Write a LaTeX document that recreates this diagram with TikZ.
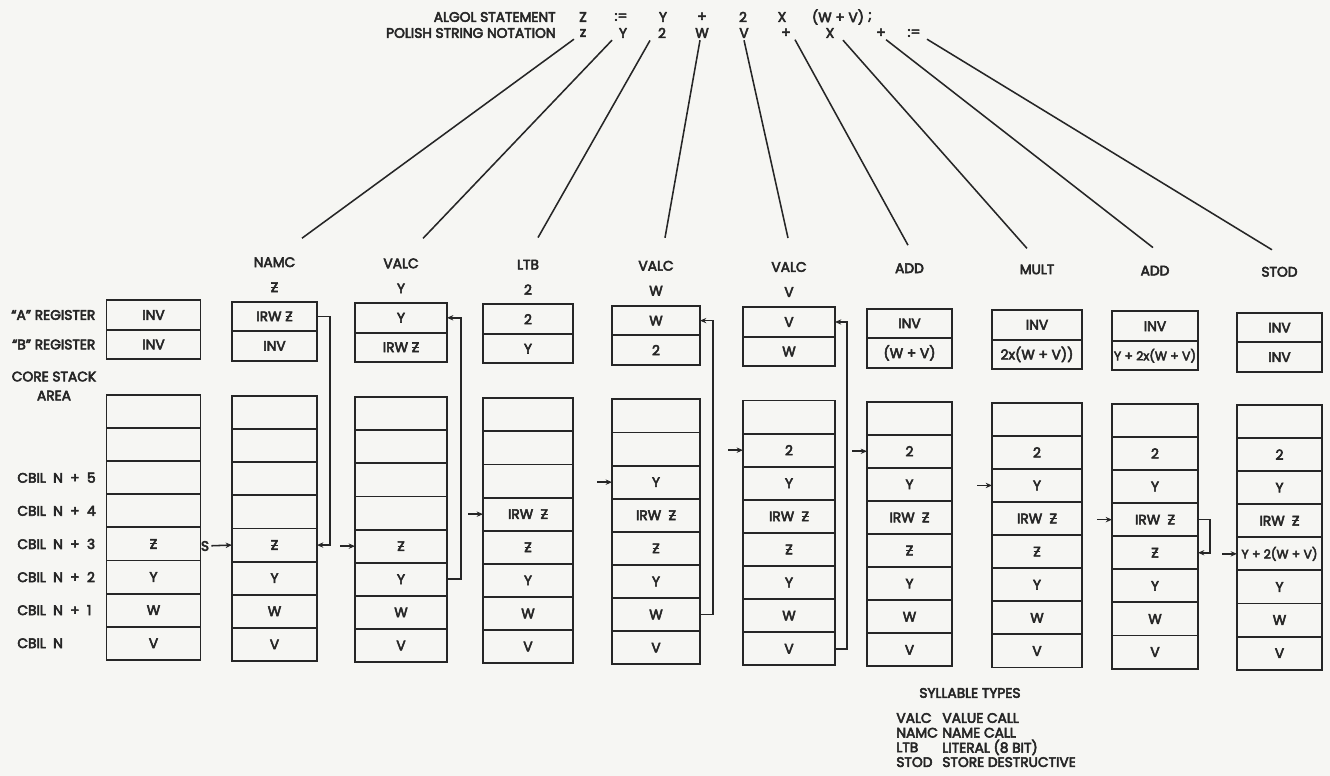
\documentclass[tikz,border=0pt]{standalone}
\usepackage{fontspec}
\setmainfont{Poppins}[FakeBold=4]
\usetikzlibrary{positioning,calc,arrows.meta}
\newcommand{\zb}{\ooalign{Z\cr\hidewidth\rule[0.31em]{0.5em}{0.075em}\hidewidth\cr}}
\newcommand{\ecell}{}
\newcommand{\nar}[1]{{\fontsize{8.8}{10}\selectfont #1}}
\begin{document}
\begin{tikzpicture}[
x=0.025cm, y=-0.025cm,
line width=1.4pt,
every node/.style={font=\fontsize{9.8}{11}\selectfont, text=ink, inner sep=1pt},
reg/.style={draw=ink, minimum height=29.5*0.025cm, inner sep=0pt, outer sep=0pt},
cell/.style={draw=ink, minimum height=33.1*0.025cm, inner sep=0pt, outer sep=0pt},
link/.style={draw=ink, line width=1.1pt},
ptr/.style={link, -{Stealth[length=4.5pt,width=3.8pt]}}
]
\definecolor{paper}{RGB}{246,246,243}
\definecolor{ink}{RGB}{38,38,38}

\useasboundingbox (0,0) rectangle (1330,776);
\fill[paper] (0,0) rectangle (1330,776);

\node[anchor=east] (algol) at (558,17) {ALGOL STATEMENT};
\node[anchor=east] (polish) at (558,33) {POLISH STRING NOTATION};
\foreach \txt/\x [count=\n] in {Z/583,:=/621,Y/663,+/702,2/743,X/782,(W + V)/838,;/870}
  \node (alg\n) at (\x,17) {\txt};
\foreach \txt/\x [count=\n] in {z/583,Y/623,2/662,W/702,V/744,+/786,X/830,+/881,:=/914}
  \node (pol\n) at (\x,33) {\txt};

\foreach \i/\cx/\op in {1/274.5/NAMC,2/401/VALC,3/528/LTB,4/656/VALC,5/789/VALC,6/909.5/ADD,7/1037/MULT,8/1155/ADD,9/1279.5/STOD}
  \node (op\i) at (\cx,261+1.2*\i) {\op};
\foreach \i/\av in {1/\zb,2/Y,3/2,4/W,5/V}
  \node (arg\i) at ($(op\i)+(0,25)$) {\av};

\foreach \n/\sx/\ex/\ey in {1/-9/27.5/-24,2/-11/22/-25,3/-12/10/-27,4/-2/9/-28,5/0/-1/-29,6/9/-1.5/-23,7/13/-10/-21,8/5/-2/-23,9/13/-7.5/-22}
  \draw[link] ($(pol\n.south)+(\sx,0)$) -- ($(op\n)+(\ex,\ey)$);

\foreach \i/\cx/\w/\ra/\rb/\stk in {
0/153.5/94/INV/INV/{\ecell,\ecell,\ecell,\ecell,\zb,Y,W,V},
1/274.5/85/IRW \zb/INV/{\ecell,\ecell,\ecell,\ecell,\zb,Y,W,V},
2/401/92/Y/IRW \zb/{\ecell,\ecell,\ecell,\ecell,\zb,Y,W,V},
3/528/90/2/Y/{\ecell,\ecell,\ecell,IRW~~\zb,\zb,Y,W,V},
4/656/88/W/2/{\ecell,\ecell,Y,IRW~~\zb,\zb,Y,W,V},
5/789/92/V/W/{\ecell,2,Y,IRW~~\zb,\zb,Y,W,V},
6/909.5/85/INV/(W + V)/{\ecell,2,Y,IRW~~\zb,\zb,Y,W,V},
7/1037/90/INV/2x(W + V))/{\ecell,2,Y,IRW~~\zb,\zb,Y,W,V},
8/1155/86/INV/\nar{Y + 2x(W + V)}/{\ecell,2,Y,IRW~~\zb,\zb,Y,W,V},
9/1279.5/85/INV/INV/{\ecell,2,Y,IRW~~\zb,\nar{Y + 2(W + V)},Y,W,V}}{
  \pgfmathsetmacro\ry{315+1.4*\i}
  \pgfmathsetmacro\sy{395+1.1*\i}
  \node[reg, minimum width=\w*0.025cm] (a\i) at (\cx,\ry) {\ra};
  \node[reg, minimum width=\w*0.025cm, anchor=north] (b\i) at (a\i.south) {\rb};
  \foreach \txt [count=\rw] in \stk
    \node[cell, minimum width=\w*0.025cm] (s\i-\rw) at (\cx,\sy+33.1*\rw-16.55) {\txt};
}

\node[left=0.22cm of a0] (lbla) {``A'' REGISTER};
\node[left=0.22cm of b0] (lblb) {``B'' REGISTER};
\node[align=center] (core) at (54,386) {CORE STACK\\[2.5pt]AREA};
\foreach \rw/\txt in {3/CBIL~ N ~+~ 5,4/CBIL~ N ~+~ 4,5/CBIL~ N ~+~ 3,6/CBIL~ N ~+~ 2,7/CBIL~ N ~+~ 1,8/CBIL~ N}
  \node[anchor=west] (cbil\rw) at (15,0 |- s0-\rw) {\txt};

\node (sreg) at (205,546) {S};
\draw[ptr] (sreg) -- (s1-5.west);
\foreach \i/\rw in {2/5,3/4,4/3,5/2,6/2,7/3,8/4,9/5}
  \draw[ptr] (s\i-\rw.west) +(-15,0) -- (s\i-\rw.west);

\draw[ptr] (a1.east) -- ++(13,0) |- (s1-5.east);
\draw[ptr] (s2-6.east) -- ++(14,0) |- (a2.east);
\draw[ptr] (s4-7.east) -- ++(13,0) |- (a4.east);
\draw[ptr] (s5-8.east) -- ++(12,0) |- (a5.east);
\draw[ptr] (s8-4.east) -- ++(12,0) |- (s8-5.east);

\node[anchor=west] (syltitle) at (917,693) {SYLLABLE TYPES};
\foreach \code/\desc [count=\n] in {VALC/VALUE CALL,NAMC/NAME CALL,LTB/LITERAL (8 BIT),STOD/STORE DESTRUCTIVE}{
  \node[anchor=west] (syl\n) at (894,718+14.7*\n-14.7) {\code};
  \node[anchor=west] (def\n) at (940,718+14.7*\n-14.7) {\desc};
}
\end{tikzpicture}
\end{document}
